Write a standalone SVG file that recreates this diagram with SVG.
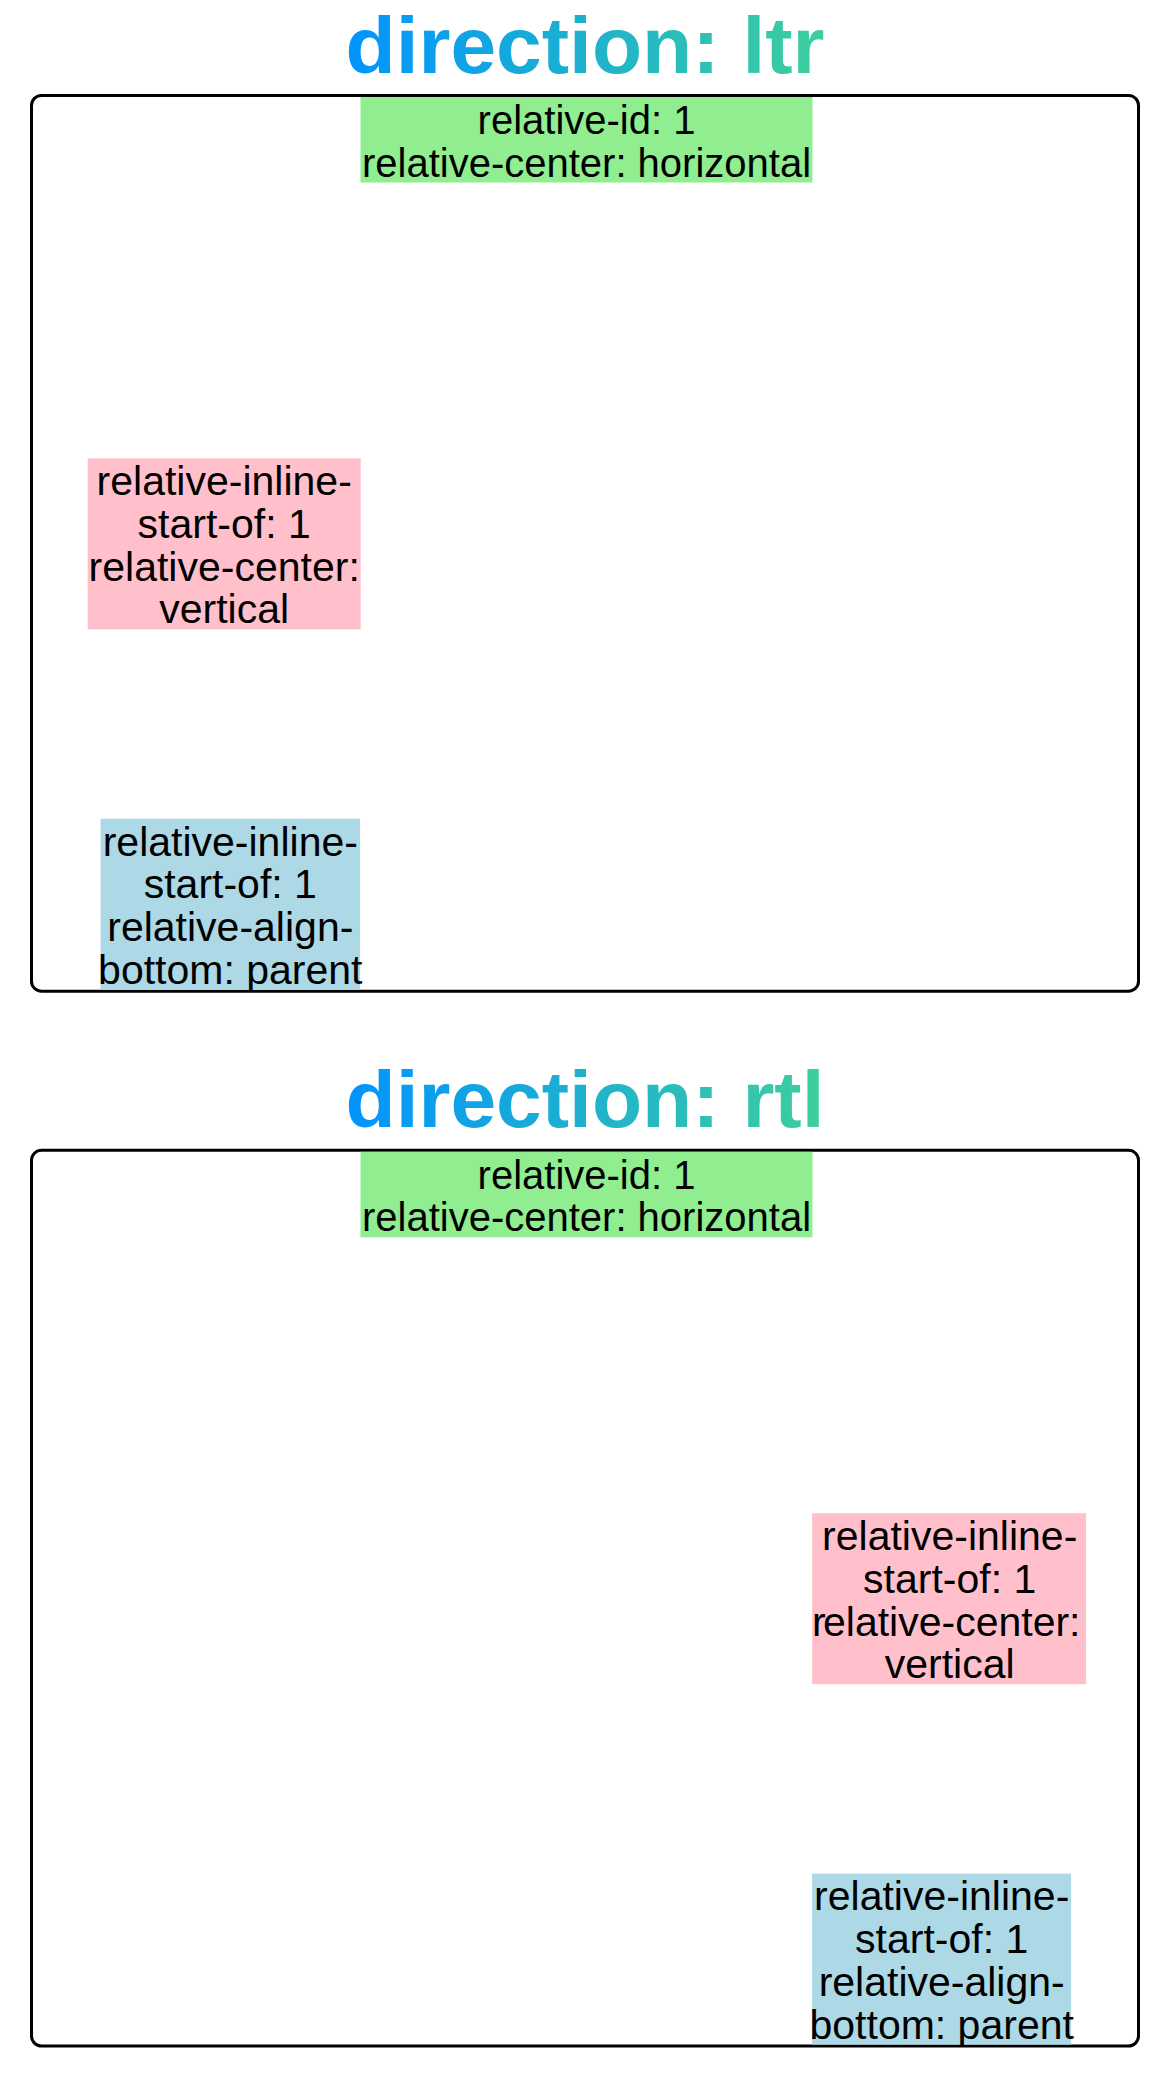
<svg xmlns="http://www.w3.org/2000/svg" width="1170" height="2073" viewBox="0 0 1170 2073">
<defs>
<linearGradient id="tg" x1="0" y1="0" x2="1" y2="0">
<stop offset="0" stop-color="#0094ff"/>
<stop offset="1" stop-color="#3dcf9c"/>
</linearGradient>
</defs>
<style>
.title{font-family:"Liberation Sans",Arial,sans-serif;font-weight:bold;font-size:80px;fill:url(#tg);text-anchor:middle}
.frame{fill:none;stroke:#000;stroke-width:3}
.g{fill:#90ee90}.p{fill:#ffc0cb}.b{fill:#add8e6}
.t{font-family:"Liberation Sans",Arial,sans-serif;font-size:40px;fill:#000;text-anchor:middle}
.t2{font-family:"Liberation Sans",Arial,sans-serif;font-size:41px;fill:#000;text-anchor:middle}
</style>
<rect width="1170" height="2073" fill="#fff"/>
<g id="title-ltr"><text class="title" x="585" y="72.5" textLength="479" lengthAdjust="spacingAndGlyphs">direction: ltr</text></g>
<g id="frame-ltr"><rect class="frame" x="31.5" y="95.5" width="1107" height="895.7" rx="10"/></g>
<g id="ltr-green"><rect class="g" x="360.5" y="97" width="452" height="85.5"/>
<text class="t" x="586.5" y="133.7">relative-id: 1</text>
<text class="t" x="586.5" y="176.5">relative-center: horizontal</text></g>
<g id="ltr-pink"><rect class="p" x="87.7" y="458.3" width="273" height="171"/>
<text class="t2" x="224.2" y="495.1">relative-inline-</text>
<text class="t2" x="224.2" y="537.9">start-of: 1</text>
<text class="t2" x="224.2" y="580.6">relative-center:</text>
<text class="t2" x="224.2" y="623.4">vertical</text></g>
<g id="ltr-blue"><rect class="b" x="100.6" y="818.7" width="259.5" height="171"/>
<text class="t2" x="230.3" y="855.5">relative-inline-</text>
<text class="t2" x="230.3" y="898.3">start-of: 1</text>
<text class="t2" x="230.3" y="941">relative-align-</text>
<text class="t2" x="230.3" y="983.8">bottom: parent</text></g>

<g id="title-rtl"><text class="title" x="585" y="1127.4" textLength="479" lengthAdjust="spacingAndGlyphs">direction: rtl</text></g>
<g id="frame-rtl"><rect class="frame" x="31.5" y="1150.3" width="1107" height="895.8" rx="10"/></g>
<g id="rtl-green"><rect class="g" x="360.5" y="1151.8" width="452" height="85.5"/>
<text class="t" x="586.5" y="1188.6">relative-id: 1</text>
<text class="t" x="586.5" y="1231.3">relative-center: horizontal</text></g>
<g id="rtl-pink"><rect class="p" x="812.1" y="1513.2" width="274" height="171"/>
<text class="t2" x="949.7" y="1550">relative-inline-</text>
<text class="t2" x="949.7" y="1592.7">start-of: 1</text>
<text class="t2" style="text-anchor:start" y="1635.5"><tspan x="812">r</tspan><tspan x="823">elative-center:</tspan></text>
<text class="t2" x="949.7" y="1678.2">vertical</text></g>
<g id="rtl-blue"><rect class="b" x="812.1" y="1873.6" width="259" height="171"/>
<text class="t2" x="941.7" y="1910.4">relative-inline-</text>
<text class="t2" x="941.7" y="1953.1">start-of: 1</text>
<text class="t2" x="941.7" y="1995.9">relative-align-</text>
<text class="t2" x="941.7" y="2038.6">bottom: parent</text></g>
<g id="connectors"/>
</svg>
